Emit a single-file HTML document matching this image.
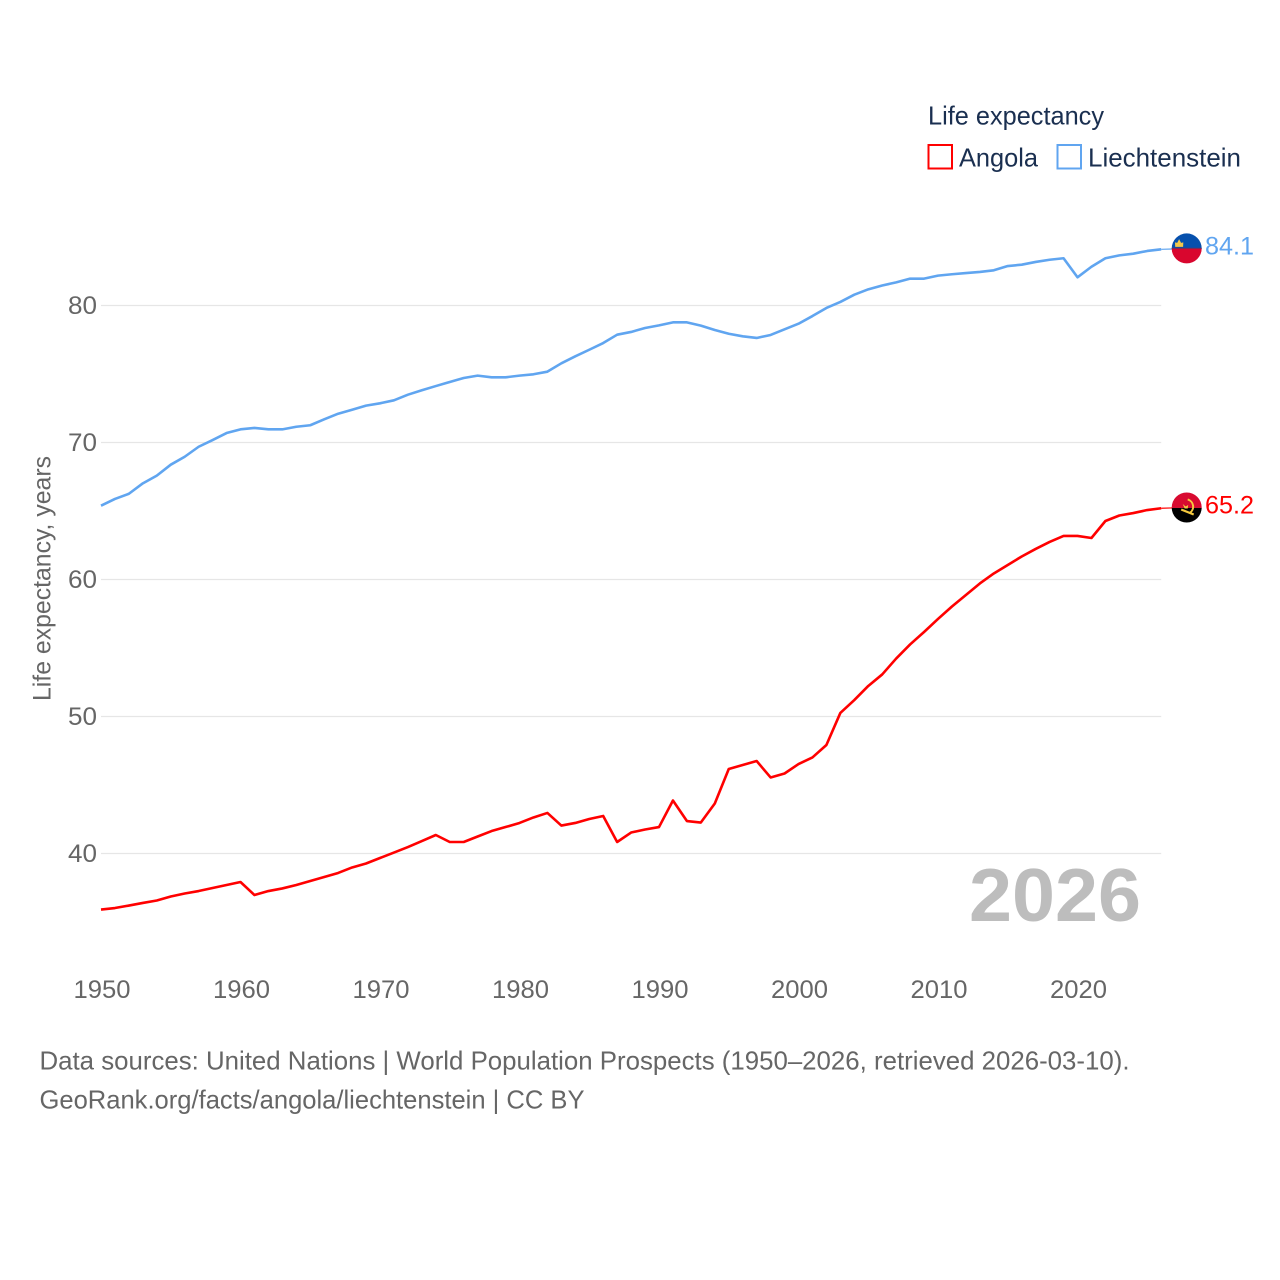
<!DOCTYPE html>
<html lang="en">
<head>
<meta charset="utf-8">
<title>Life expectancy: Angola and Liechtenstein</title>
<style>
html,body{margin:0;padding:0;background:#fff;width:1280px;height:1280px;overflow:hidden}
svg{display:block}
text{font-family:"Liberation Sans",sans-serif}
.tick{font-size:25px;fill:#666}
.legend{font-size:26px;fill:#1a2f50}
.foot{font-size:26px;fill:#666}
</style>
</head>
<body>
<svg id="chart" width="1280" height="1280" viewBox="0 0 1280 1280" xmlns="http://www.w3.org/2000/svg">
  <g id="grid"></g>
  <g id="yticks"></g>
  <g id="xticks"></g>
  <text transform="translate(50.5,578.5) rotate(-90)" text-anchor="middle" font-size="25" fill="#666" textLength="245" lengthAdjust="spacingAndGlyphs">Life expectancy, years</text>
  <g id="series"></g>
  <text x="969" y="921" font-size="75" font-weight="700" fill="#bdbdbd" textLength="172" lengthAdjust="spacingAndGlyphs">2026</text>

  <g>
    <text class="legend" x="928" y="124.5" textLength="176" lengthAdjust="spacingAndGlyphs">Life expectancy</text>
    <rect x="928.5" y="145" width="23.5" height="23.5" fill="#fff" stroke="#ff0000" stroke-width="2"/>
    <text class="legend" x="959" y="166.5" textLength="79" lengthAdjust="spacingAndGlyphs">Angola</text>
    <rect x="1057.5" y="145" width="23.5" height="23.5" fill="#fff" stroke="#60a5f0" stroke-width="2"/>
    <text class="legend" x="1088" y="166.5" textLength="153" lengthAdjust="spacingAndGlyphs">Liechtenstein</text>
  </g>

  <g>
    <text class="foot" x="39.5" y="1069.5" textLength="1090" lengthAdjust="spacingAndGlyphs">Data sources: United Nations | World Population Prospects (1950–2026, retrieved 2026-03-10).</text>
    <text class="foot" x="39.5" y="1108.5" textLength="545" lengthAdjust="spacingAndGlyphs">GeoRank.org/facts/angola/liechtenstein | CC BY</text>
  </g>

  <defs>
    <clipPath id="flagClip"><circle cx="0" cy="0" r="15"/></clipPath>
  </defs>
</svg>
<script>
const firstYear = 1950;
const xTickYears = [1950, 1960, 1970, 1980, 1990, 2000, 2010, 2020];
const yTickValues = [40, 50, 60, 70, 80];
const angolaValues = [
  35.91,36.02,36.20,36.39,36.57,36.86,37.08,37.26,37.48,37.70,
  37.92,36.97,37.26,37.45,37.70,37.99,38.28,38.58,38.98,39.27,
  39.67,40.07,40.47,40.91,41.35,40.84,40.84,41.24,41.64,41.93,
  42.23,42.63,42.96,42.04,42.23,42.52,42.74,40.84,41.53,41.75,
  41.93,43.87,42.37,42.26,43.65,46.17,46.46,46.75,45.55,45.84,
  46.53,47.01,47.92,50.26,51.20,52.23,53.07,54.23,55.26,56.17,
  57.12,58.03,58.87,59.71,60.44,61.06,61.68,62.23,62.74,63.18,
  63.18,63.03,64.27,64.67,64.85,65.07,65.2
];
const liechtensteinValues = [
  65.39,65.88,66.26,67.02,67.58,68.38,68.96,69.69,70.18,70.69,
  70.96,71.06,70.96,70.96,71.15,71.26,71.69,72.10,72.39,72.69,
  72.86,73.08,73.49,73.81,74.12,74.42,74.71,74.88,74.76,74.76,
  74.88,74.98,75.17,75.78,76.29,76.77,77.26,77.87,78.07,78.36,
  78.55,78.77,78.77,78.53,78.21,77.94,77.75,77.63,77.85,78.26,
  78.67,79.23,79.82,80.26,80.79,81.18,81.46,81.69,81.96,81.96,
  82.18,82.28,82.37,82.45,82.57,82.88,82.98,83.18,83.34,83.45,
  82.06,82.83,83.45,83.66,83.78,83.98,84.1
];

const NS = 'http://www.w3.org/2000/svg';
const xScale = yr => 101 + (yr - 1950) * 13.95;
const yScale = v => 853.5 - (v - 40) * 13.7;
const plotRight = xScale(2026);

function make(tag, attrs, parent, txt) {
  const el = document.createElementNS(NS, tag);
  for (const k in attrs) el.setAttribute(k, attrs[k]);
  if (txt !== undefined) el.textContent = txt;
  parent.appendChild(el);
  return el;
}

const gridG = document.getElementById('grid');
const yG = document.getElementById('yticks');
const xG = document.getElementById('xticks');
const seriesG = document.getElementById('series');
const chartSvg = document.getElementById('chart');

yTickValues.forEach(v => {
  const line = make('line', {x1: 101, x2: plotRight, y1: yScale(v), y2: yScale(v), stroke: '#e6e6e6', 'stroke-width': 1.3}, gridG);
  
  
  const label = make('text', {class: 'tick', x: 97, y: yScale(v) + 8.5, 'text-anchor': 'end', textLength: 29, lengthAdjust: 'spacingAndGlyphs'}, yG, String(v));
  
  
});

xTickYears.forEach(yr => {
  const label = make('text', {class: 'tick', x: xScale(yr) + 1, y: 998, 'text-anchor': 'middle', textLength: 57, lengthAdjust: 'spacingAndGlyphs'}, xG, String(yr));
  
  
});

function drawSeries(values, color, key) {
  const pts = values.map((v, i) => xScale(firstYear + i).toFixed(2) + ',' + yScale(v).toFixed(2)).join(' ');
  const line = make('polyline', {points: pts, fill: 'none', stroke: color, 'stroke-width': 2.6, 'stroke-linejoin': 'round'}, seriesG);
  
  
  const last = values[values.length - 1];
  const ly = yScale(last);
  const lead = make('line', {x1: plotRight, x2: plotRight + 11, y1: ly, y2: ly - 0.3, stroke: color, 'stroke-width': 1.2}, seriesG);
  
  
  const value = make('text', {x: 1205, y: ly + 5.3, 'font-size': 25, fill: color, textLength: 49, lengthAdjust: 'spacingAndGlyphs'}, chartSvg, last.toFixed(1));
  
  
  return ly;
}

const angolaEnd = drawSeries(angolaValues, '#ff0000', 'angola');
const liechtensteinEnd = drawSeries(liechtensteinValues, '#60a5f0', 'liechtenstein');

const liFlag = make('g', {transform: 'translate(1186.7,' + (liechtensteinEnd - 0.9) + ')', 'clip-path': 'url(#flagClip)'}, chartSvg);


make('rect', {x: -16, y: -16, width: 32, height: 16, fill: '#0650ad'}, liFlag);
make('rect', {x: -16, y: 0, width: 32, height: 16, fill: '#d9062e'}, liFlag);
make('rect', {x: -16, y: -0.6, width: 32, height: 1.2, fill: '#7a2a55'}, liFlag);
make('path', {d: 'M-11.5,-1.5 L-11.7,-6 L-9.5,-5.5 L-7.6,-9.3 L-5.6,-5.5 L-3.4,-6 L-3.6,-1.5 Z', fill: '#f2c84b'}, liFlag);

const aoFlag = make('g', {transform: 'translate(1186.7,' + (angolaEnd - 0.8) + ')', 'clip-path': 'url(#flagClip)'}, chartSvg);


make('rect', {x: -16, y: -16, width: 32, height: 16.5, fill: '#d80a30'}, aoFlag);
make('rect', {x: -16, y: 0.5, width: 32, height: 16, fill: '#000'}, aoFlag);
make('path', {d: 'M1,-8 A7.5,7.5 0 0 1 3,5.5', fill: 'none', stroke: '#f5c93e', 'stroke-width': 2}, aoFlag);
make('path', {d: 'M-5.5,2 L7,7', fill: 'none', stroke: '#f5c93e', 'stroke-width': 2.2}, aoFlag);
make('path', {d: 'M-4,-3.5 L-1,-1 L1.5,-2.5 L1,1 L-2,1 Z', fill: '#f5c93e'}, aoFlag);
</script>
</body>
</html>
